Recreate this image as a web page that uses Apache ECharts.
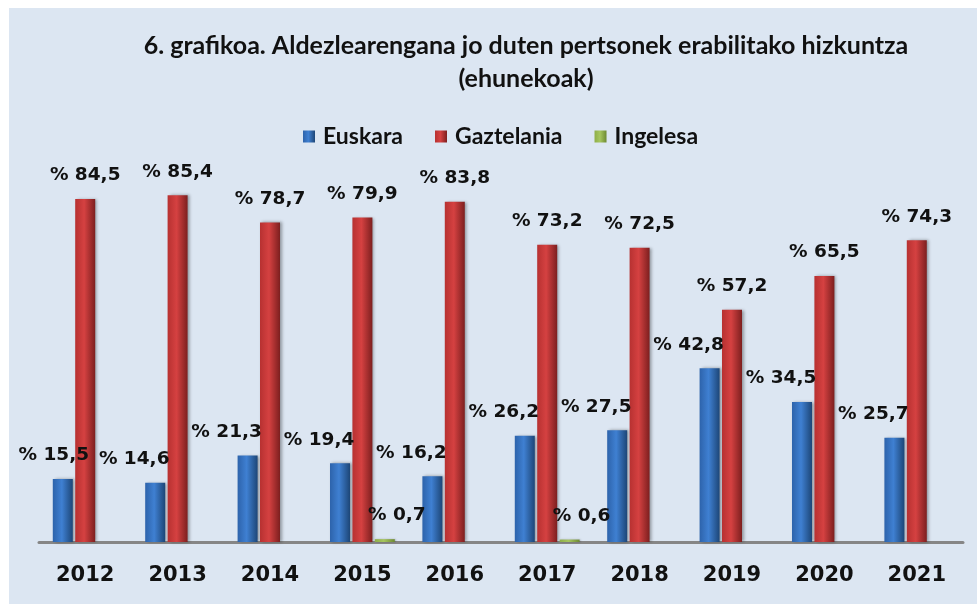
<!DOCTYPE html>
<html>
<head>
<meta charset="utf-8">
<script src="https://cdn.jsdelivr.net/npm/echarts@6/dist/echarts.min.js"></script>
<style>
    html, body { margin: 0; padding: 0; background: #fff; }
    #main {
        width: 977px; height: 604px;
        background: #dce6f2;
        box-shadow: inset 9px 8px 0 #fff;
    }
</style>
</head>
<body>
<div id="main"></div>
<script>
    // urteak
    var years = ['2012', '2013', '2014', '2015', '2016', '2017', '2018', '2019', '2020', '2021'];
    // ehunekoak
    var euskara = [15.5, 14.6, 21.3, 19.4, 16.2, 26.2, 27.5, 42.8, 34.5, 25.7];
    var gaztelania = [84.5, 85.4, 78.7, 79.9, 83.8, 73.2, 72.5, 57.2, 65.5, 74.3];
    var ingelesa = [null, null, null, 0.7, null, 0.6, null, null, null, null];
    var seriesNames = ['Euskara', 'Gaztelania', 'Ingelesa'];

    var myChart = echarts.init(document.getElementById('main'), null, {renderer: 'canvas'});

    function fmt(p) {
        return '% ' + p.value.toFixed(1).replace('.', ',');
    }

    // bar "cylinder" gradient
    function grad(c1, c2, c3) {
        return new echarts.graphic.LinearGradient(0, 0, 1, 0, [
            {offset: 0, color: c1},
            {offset: 0.45, color: c2},
            {offset: 1, color: c3}
        ]);
    }

    var labelFont = {
        show: true,
        position: 'top',
        distance: 14,
        formatter: fmt,
        fontFamily: 'DejaVu Sans',
        fontWeight: 'bold',
        fontSize: 18.5,
        color: '#111'
    };

    var blueData = euskara.map(function (v, i) {
        // Excel moved these labels a bit to the left
        return {value: v, label: {offset: [i === 0 ? -9 : -21, 0]}};
    });

    var option = {
        animation: false,
        title: {
            text: '6. grafikoa. Aldezlearengana jo duten pertsonek erabilitako hizkuntza\n(ehunekoak)',
            left: 521,
            top: 24,
            textAlign: 'center',
            textStyle: {
                fontFamily: 'Lato',
                fontWeight: 'bold',
                fontSize: 25,
                lineHeight: 33,
                color: '#111'
            }
        },
        legend: {
            data: seriesNames,
            left: 298,
            top: 120,
            itemWidth: 12,
            itemHeight: 12,
            itemGap: 32,
            icon: 'rect',
            textStyle: {
                fontFamily: 'Lato',
                fontWeight: 'bold',
                fontSize: 23,
                padding: [0, 0, 0, 3],
                color: '#111'
            }
        },
        grid: {
            left: 39,
            right: 14,
            top: 136,
            bottom: 62,
            containLabel: false
        },
        xAxis: {
            type: 'category',
            data: years,
            axisTick: {show: false},
            axisLine: {lineStyle: {color: '#868686', width: 3}},
            axisLabel: {
                margin: 23,
                fontFamily: 'DejaVu Sans',
                fontWeight: 'bold',
                fontSize: 21,
                color: '#111'
            }
        },
        yAxis: {
            type: 'value',
            min: 0,
            max: 100,
            show: false,
            splitLine: {show: false}
        },
        series: [
            {
                name: seriesNames[0],
                type: 'bar',
                barWidth: 20,
                barGap: '12%',
                data: blueData,
                itemStyle: {
                    color: grad('#2d63ab', '#3f80d2', '#1d4677'),
                    shadowColor: 'rgba(0,0,0,0.35)',
                    shadowBlur: 3,
                    shadowOffsetX: 2
                },
                label: labelFont
            },
            {
                name: seriesNames[1],
                type: 'bar',
                barWidth: 20,
                barGap: '12%',
                data: gaztelania,
                itemStyle: {
                    color: grad('#b73131', '#d54141', '#7d1f1f'),
                    shadowColor: 'rgba(0,0,0,0.35)',
                    shadowBlur: 3,
                    shadowOffsetX: 2
                },
                label: labelFont
            },
            {
                name: seriesNames[2],
                type: 'bar',
                barWidth: 20,
                barGap: '12%',
                data: ingelesa,
                itemStyle: {
                    color: grad('#8eae48', '#a6c65e', '#6d8a32'),
                    shadowColor: 'rgba(0,0,0,0.25)',
                    shadowBlur: 2,
                    shadowOffsetX: 1
                },
                label: Object.assign({}, labelFont, {offset: [12, 0]})
            }
        ]
    };

    myChart.setOption(option);
</script>
</body>
</html>
